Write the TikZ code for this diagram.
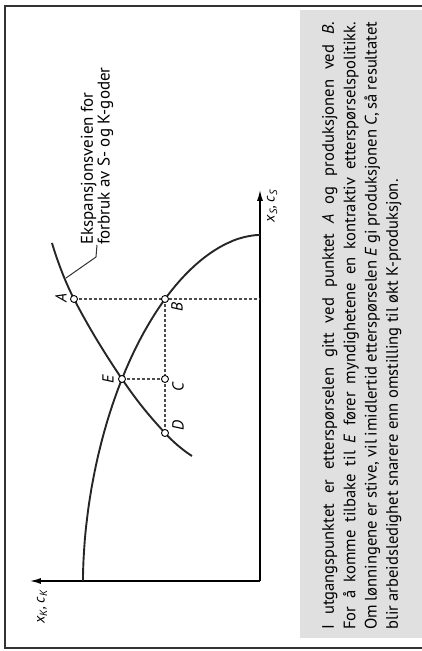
\documentclass[tikz,border=0pt]{standalone}
\usepackage{fontspec}
\setmainfont{PT Sans}
\usetikzlibrary{arrows.meta}

\tikzset{
  frame/.style={line width=1.2pt, black!80},
  axis/.style={line width=1.3pt, -{Latex[length=11pt,width=6pt]}},
  curve/.style={line width=1.9pt, black!85},
  guide/.style={line width=1.1pt, black!70, dash pattern=on 3pt off 2pt},
  leader/.style={line width=1pt, black!80},
  pt/.style={circle, draw, fill=white, line width=0.9pt, inner sep=0pt, minimum size=7pt},
  lab/.style={font=\itshape\fontsize{16}{16}\selectfont, inner sep=0pt},
}

\begin{document}
\begin{tikzpicture}[x=1pt, y=1pt]
\begin{scope}[rotate=90, transform shape]
\useasboundingbox (0,0) rectangle (651,421);
% caption band and frame
\fill[black!12] (13,-2) rectangle (641,121);
\draw[frame] (3,-2) rectangle (645,416);
% axes
\coordinate (O) at (70,161);
\draw[axis] (O) -- (461,161);
\draw[axis] (O) -- (70,391);
% points
\coordinate (a) at (352,347);
\coordinate (b) at (352,256);
\coordinate (e) at (272,299);
\coordinate (c) at (272,256);
\coordinate (d) at (218,256);
\coordinate (ex0) at (408,369);
\coordinate (ex1) at (195,229);
% dotted guides
\draw[guide] (a) -- (a |- O);
\draw[guide] (b) -- (d);
\draw[guide] (e) -- (c);
% production possibility curve
\draw[curve] plot[domain=0:90, samples=90, variable=\t]
  ({70+346*max(cos(\t),0.00001)^1.08}, {161+177*max(sin(\t),0.00001)^1.08});
% expansion path
\draw[curve] plot[smooth, tension=0.7] coordinates {(ex0) (a) (e) (d) (ex1)};
% callout
\node[anchor=west, align=left, inner sep=0pt,
  font=\fontsize{17}{14}\selectfont] (note) at (406,324)
  {Ekspansjonsveien for\\forbruk av S- og K-goder};
\coordinate (lead) at (373,355);
\draw[leader] (lead) -- (394,325) -- (note.west);
% point markers
\node[pt] (A) at (a) {};
\node[pt] (B) at (b) {};
\node[pt] (C) at (c) {};
\node[pt] (D) at (d) {};
\node[pt] (E) at (e) {};
\node[lab] (lA) at (353,360) {A};
\node[lab] (lB) at (344,244) {B};
\node[lab] (lC) at (264,243) {C};
\node[lab] (lD) at (225,243) {D};
\node[lab] (lE) at (272,313) {E};
% axis labels
\node[lab, font=\itshape\fontsize{15}{15}\selectfont] (xs) at (445,149)
  {x\textsubscript{S}, c\textsubscript{S}};
\node[lab, font=\itshape\fontsize{15}{15}\selectfont] (xk) at (44,379)
  {x\textsubscript{K}, c\textsubscript{K}};
% caption
\node[anchor=base west, text width=608pt, align=justify, inner sep=0pt,
  font=\fontsize{16.6}{21.3}\selectfont] (cap) at (21,87)
  {I utgangspunktet er etterspørselen gitt ved punktet \textit{A} og produksjonen ved \textit{B}.\linebreak
  For å komme tilbake til \textit{E} fører myndighetene en kontraktiv etterspørselspolitikk.\linebreak
  {\spaceskip=2.6pt plus 3pt minus 1pt Om lønningene er stive, vil imidlertid etterspørselen \textit{E} gi produksjonen \textit{C}, så resultatet}\linebreak
  blir arbeidsledighet snarere enn omstilling til økt K-produksjon.};
\end{scope}
\end{tikzpicture}
\end{document}
